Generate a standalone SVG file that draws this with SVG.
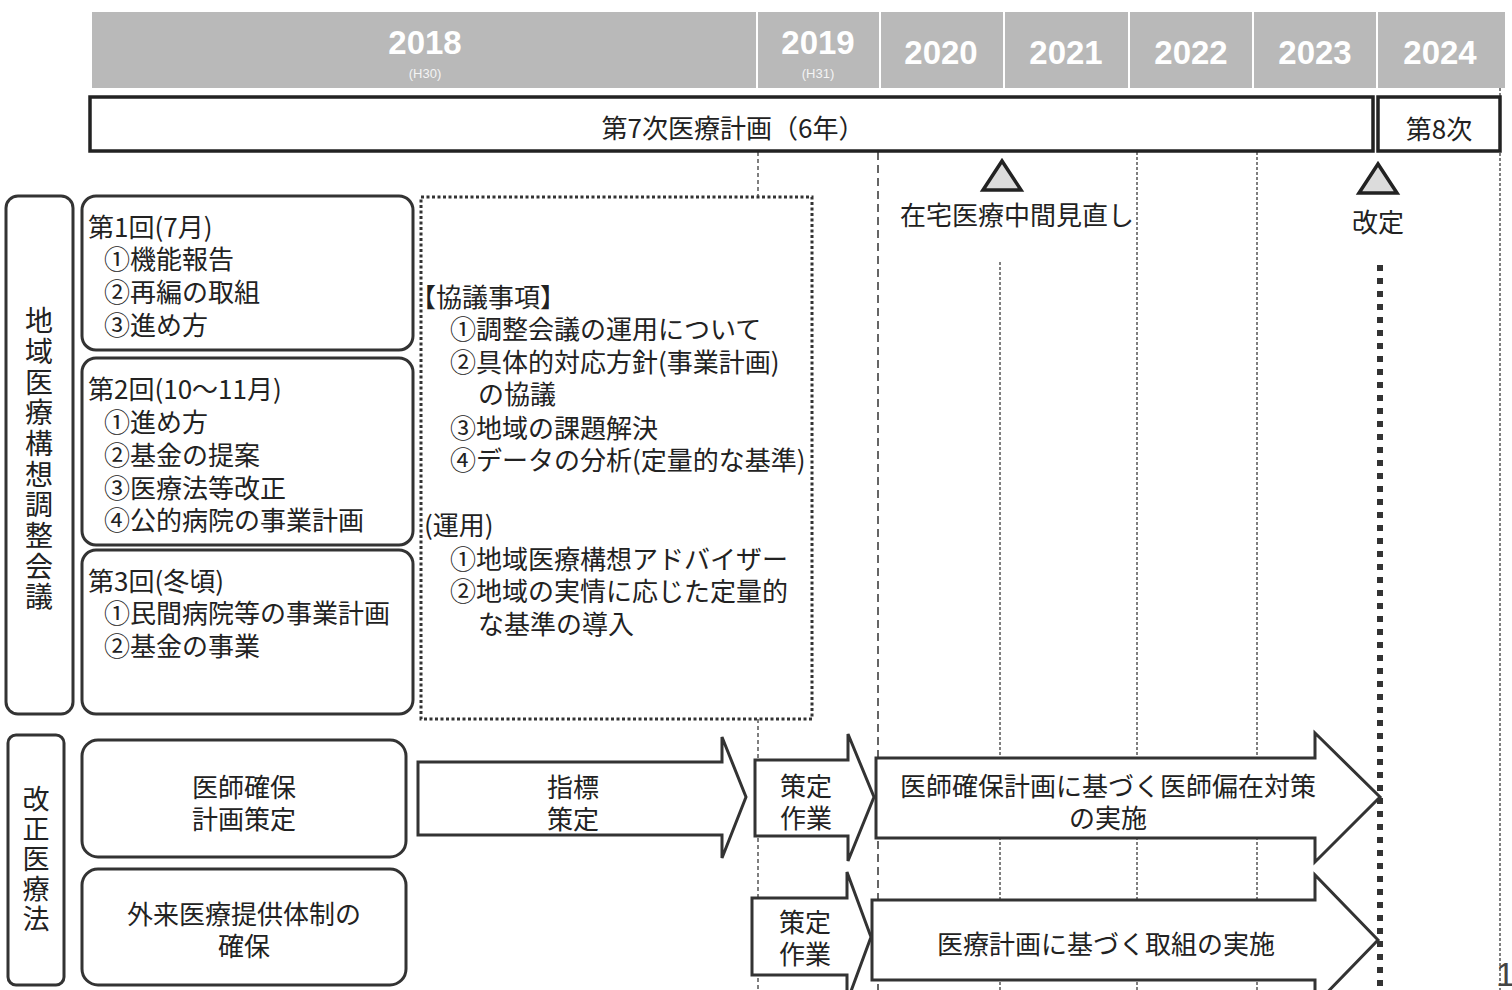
<svg xmlns="http://www.w3.org/2000/svg" width="1512" height="990" viewBox="0 0 1512 990">
<style>
.t{font-family:"Noto Sans CJK JP","Liberation Sans",sans-serif;font-size:26px;fill:#222;dominant-baseline:central}
.c{text-anchor:middle}
.v{writing-mode:vertical-rl;text-anchor:middle;dominant-baseline:central}
.yr{font-family:"Liberation Sans","DejaVu Sans",sans-serif;font-weight:bold;font-size:33px;fill:#fff;text-anchor:middle;dominant-baseline:central}
.hs{font-family:"Liberation Sans","DejaVu Sans",sans-serif;font-size:13px;fill:#f4f4f4;text-anchor:middle;dominant-baseline:central}
.box{fill:#fff;stroke:#333;stroke-width:3}
.arr{fill:#fff;stroke:#333;stroke-width:3;stroke-linejoin:miter}
.sep{stroke:#fff;stroke-width:2}
.dl{fill:none;stroke:#555;stroke-width:1.5}
.tri{fill:#dcdcdc;stroke:#222;stroke-width:3.5;stroke-linejoin:miter}
</style>
<rect width="1512" height="990" fill="#fff"/>

<g id="header">
<rect x="92" y="12" width="1413" height="76" fill="#b9b9b9"/>
<line class="sep" x1="757" y1="12" x2="757" y2="88"/>
<line class="sep" x1="880" y1="12" x2="880" y2="88"/>
<line class="sep" x1="1004" y1="12" x2="1004" y2="88"/>
<line class="sep" x1="1129" y1="12" x2="1129" y2="88"/>
<line class="sep" x1="1253" y1="12" x2="1253" y2="88"/>
<line class="sep" x1="1377" y1="12" x2="1377" y2="88"/>
<text class="yr" x="425" y="42">2018</text>
<text class="hs" x="425" y="73">(H30)</text>
<text class="yr" x="818" y="42">2019</text>
<text class="hs" x="818" y="73">(H31)</text>
<text class="yr" x="941" y="52">2020</text>
<text class="yr" x="1066" y="52">2021</text>
<text class="yr" x="1191" y="52">2022</text>
<text class="yr" x="1315" y="52">2023</text>
<text class="yr" x="1440" y="52">2024</text>
</g>

<g id="connectors">
<line class="dl" x1="758" y1="152" x2="758" y2="990" stroke-dasharray="4 3"/>
<line class="dl" x1="878" y1="152" x2="878" y2="990" stroke-dasharray="8 5" style="stroke:#333"/>
<line class="dl" x1="1000" y1="262" x2="1000" y2="990" stroke-dasharray="3 2"/>
<line class="dl" x1="1137" y1="152" x2="1137" y2="990" stroke-dasharray="3 2"/>
<line class="dl" x1="1257" y1="152" x2="1257" y2="990" stroke-dasharray="3 2"/>
<line class="dl" x1="1500" y1="88" x2="1500" y2="990" stroke-dasharray="3 2"/>
<line x1="1380" y1="265" x2="1380" y2="990" stroke="#333" stroke-width="6" stroke-dasharray="6 7"/>
</g>

<g id="plan7">
<rect x="90" y="97" width="1283" height="54" fill="#fff" stroke="#222" stroke-width="3.5"/>
<text class="t c" x="733" y="126">第7次医療計画（6年）</text>
</g>
<g id="plan8">
<rect x="1378" y="97" width="122" height="54" fill="#fff" stroke="#222" stroke-width="3.5"/>
<text class="t c" x="1439" y="127">第8次</text>
</g>

<g id="milestone-2020">
<polygon class="tri" points="1002,161 983,190 1021,190"/>
<text class="t" x="900" y="213">在宅医療中間見直し</text>
</g>
<g id="milestone-2024">
<polygon class="tri" points="1378,164 1359,193 1397,193"/>
<text class="t c" x="1378" y="220">改定</text>
</g>

<g id="chiiki-label">
<rect class="box" x="6" y="196" width="67" height="518" rx="12"/>
<text class="t v" x="39" y="460" style="font-size:28px;letter-spacing:2.7px">地域医療構想調整会議</text>
</g>

<g id="meeting1">
<rect class="box" x="82" y="196" width="331" height="154" rx="14"/>
<text class="t"><tspan x="88" y="225">第1回(7月)</tspan><tspan x="104" y="257">①機能報告</tspan><tspan x="104" y="290">②再編の取組</tspan><tspan x="104" y="323">③進め方</tspan></text>
</g>
<g id="meeting2">
<rect class="box" x="82" y="358" width="331" height="187" rx="14"/>
<text class="t"><tspan x="88" y="387">第2回(10〜11月)</tspan><tspan x="104" y="420">①進め方</tspan><tspan x="104" y="453">②基金の提案</tspan><tspan x="104" y="486">③医療法等改正</tspan><tspan x="104" y="518">④公的病院の事業計画</tspan></text>
</g>
<g id="meeting3">
<rect class="box" x="82" y="550" width="331" height="164" rx="14"/>
<text class="t"><tspan x="88" y="579">第3回(冬頃)</tspan><tspan x="104" y="611">①民間病院等の事業計画</tspan><tspan x="104" y="644">②基金の事業</tspan></text>
</g>

<g id="kyogi">
<rect x="421" y="197" width="391" height="522" fill="#fff" stroke="#333" stroke-width="3" stroke-dasharray="3 2.5"/>
<text class="t"><tspan x="410" y="295">【協議事項】</tspan><tspan x="450" y="327">①調整会議の運用について</tspan><tspan x="450" y="360">②具体的対応方針(事業計画)</tspan><tspan x="478" y="392">の協議</tspan><tspan x="450" y="426">③地域の課題解決</tspan><tspan x="450" y="458">④データの分析(定量的な基準)</tspan></text>
<text class="t"><tspan x="424" y="523">(運用)</tspan><tspan x="450" y="557">①地域医療構想アドバイザー</tspan><tspan x="450" y="589">②地域の実情に応じた定量的</tspan><tspan x="478" y="622">な基準の導入</tspan></text>
</g>

<g id="kaisei-label">
<rect class="box" x="8" y="735" width="56" height="250" rx="8"/>
<text class="t v" x="36" y="860" style="font-size:27px;letter-spacing:3px">改正医療法</text>
</g>

<g id="ishi-kakuho">
<rect class="box" x="82" y="740" width="324" height="117" rx="16"/>
<text class="t c"><tspan x="244" y="785">医師確保</tspan><tspan x="244" y="817">計画策定</tspan></text>
</g>
<g id="gairai">
<rect class="box" x="82" y="869" width="324" height="116" rx="16"/>
<text class="t c"><tspan x="244" y="912">外来医療提供体制の</tspan><tspan x="244" y="944">確保</tspan></text>
</g>

<g id="arrow-shihyo">
<polygon class="arr" points="418,762 722,762 722,737 746,797 722,858 722,835 418,835"/>
<text class="t c"><tspan x="573" y="785">指標</tspan><tspan x="573" y="817">策定</tspan></text>
</g>
<g id="arrow-sakutei1">
<polygon class="arr" points="755,760 848,760 848,734 874,797 848,861 848,836 755,836"/>
<text class="t c"><tspan x="806" y="784">策定</tspan><tspan x="806" y="816">作業</tspan></text>
</g>
<g id="arrow-sakutei2">
<polygon class="arr" points="752,898 847,898 847,872 871,937 847,1002 847,975 752,975"/>
<text class="t c"><tspan x="805" y="920">策定</tspan><tspan x="805" y="952">作業</tspan></text>
</g>
<g id="arrow-ishi">
<polygon class="arr" points="876,758 1315,758 1315,733 1380,797 1315,862 1315,838 876,838"/>
<text class="t c"><tspan x="1108" y="784">医師確保計画に基づく医師偏在対策</tspan><tspan x="1108" y="816">の実施</tspan></text>
</g>
<g id="arrow-iryo">
<polygon class="arr" points="872,900 1315,900 1315,875 1378,940 1315,1005 1315,980 872,980"/>
<text class="t c" x="1106" y="942">医療計画に基づく取組の実施</text>
</g>

<text x="1496" y="986" font-family="Liberation Sans, sans-serif" font-size="34" fill="#444">1</text>
</svg>
